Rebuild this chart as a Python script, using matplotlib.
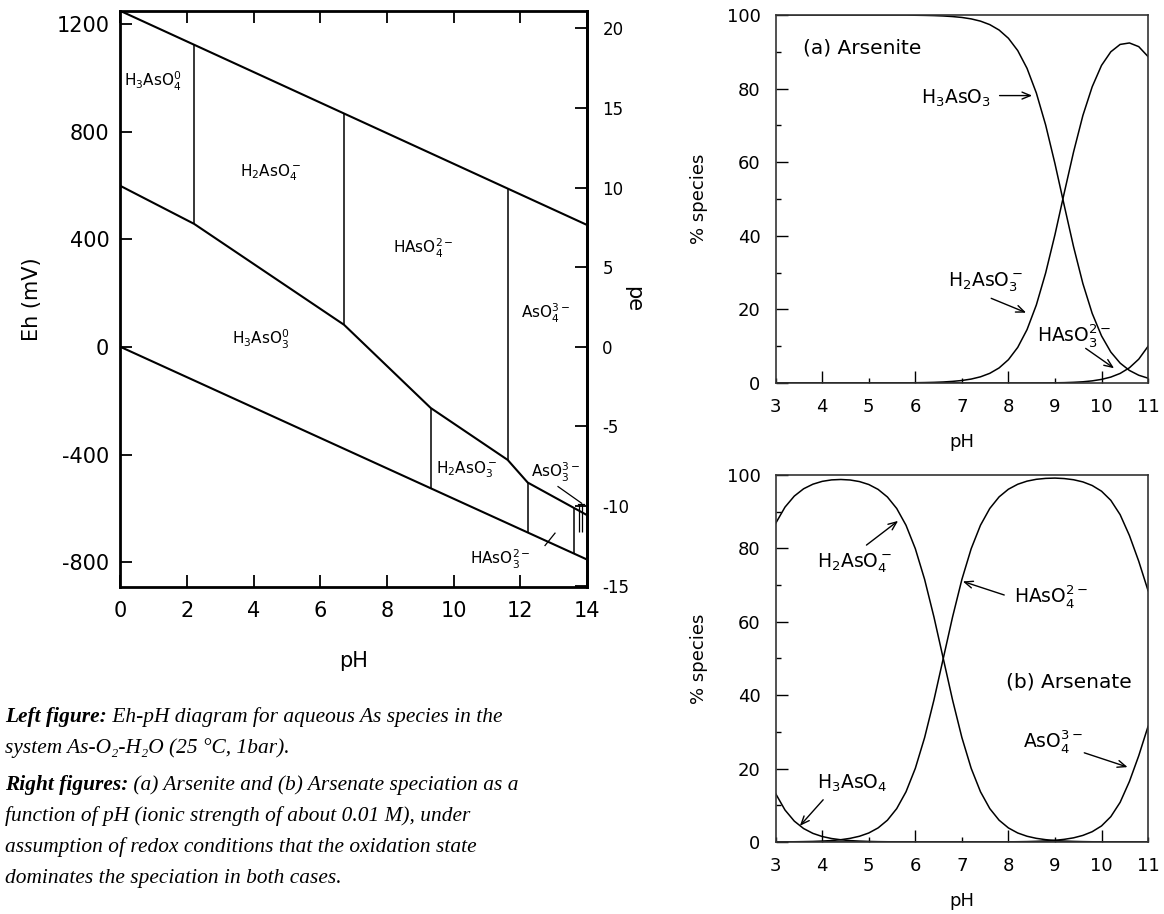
import matplotlib
matplotlib.use("Agg")
import matplotlib.pyplot as plt
from matplotlib.text import Annotation

plt.rcParams["axes.unicode_minus"] = False

# ---- Eh-pH diagram (pH, Eh in mV) ----
o2_line_ph = [0, 14]
o2_line_eh = [1248, 453]
h2_line_ph = [0, 14]
h2_line_eh = [0, -790]
redox_ph = [0, 2.21, 6.71, 9.31, 11.62, 12.22, 14]
redox_eh = [598, 457, 82, -227, -420, -504, -625]

as5_ph = [2.21, 6.71, 11.62]
as5_top = [1122, 867, 588]
as5_bottom = [457, 82, -420]
as3_ph = [9.31, 12.22, 13.62]
as3_top = [-227, -504, -600]
as3_bottom = [-525, -690, -768]
tiny_ph = [13.77, 13.85]
tiny_top = [-583, -583]
tiny_bottom = [-686, -686]

eh_ticks = [-800, -400, 0, 400, 800, 1200]
pe_ticks = [-15, -10, -5, 0, 5, 10, 15, 20]
ph_ticks = [0, 2, 4, 6, 8, 10, 12, 14]

# ---- speciation curves (% species) ----
ph_grid = [3.0, 3.2, 3.4, 3.6, 3.8, 4.0, 4.2, 4.4, 4.6, 4.8, 5.0, 5.2, 5.4,
           5.6, 5.8, 6.0, 6.2, 6.4, 6.6, 6.8, 7.0, 7.2, 7.4, 7.6, 7.8, 8.0,
           8.2, 8.4, 8.6, 8.8, 9.0, 9.2, 9.4, 9.6, 9.8, 10.0, 10.2, 10.4,
           10.6, 10.8, 11.0]

h3aso3 = [100, 100, 100, 100, 100, 100, 100, 100, 100, 100, 100, 100, 100,
          100, 100, 99.93, 99.89, 99.83, 99.73, 99.57, 99.33, 98.94, 98.33,
          97.38, 95.91, 93.67, 90.33, 85.5, 78.8, 70.1, 59.6, 48.2, 37.0,
          27.0, 18.9, 12.8, 8.4, 5.4, 3.4, 2.1, 1.3]
h2aso3 = [0, 0, 0, 0, 0, 0, 0, 0, 0, 0, 0, 0.01, 0.02, 0.03, 0.04, 0.07,
          0.11, 0.17, 0.27, 0.43, 0.67, 1.06, 1.67, 2.62, 4.09, 6.33, 9.67,
          14.5, 21.2, 29.9, 40.3, 51.7, 62.8, 72.7, 80.5, 86.3, 90.0, 92.0,
          92.4, 91.4, 88.7]
haso3 = [0, 0, 0, 0, 0, 0, 0, 0, 0, 0, 0, 0, 0, 0, 0, 0, 0, 0, 0, 0, 0, 0,
         0, 0, 0, 0, 0, 0, 0.01, 0.02, 0.05, 0.09, 0.18, 0.32, 0.57, 0.97,
         1.60, 2.59, 4.13, 6.47, 9.96]

h3aso4 = [13.15, 8.71, 5.68, 3.66, 2.34, 1.49, 0.94, 0.60, 0.37, 0.24, 0.15,
          0.09, 0.06, 0.03, 0.02, 0.01, 0, 0, 0, 0, 0, 0, 0, 0, 0, 0, 0, 0,
          0, 0, 0, 0, 0, 0, 0, 0, 0, 0, 0, 0, 0]
h2aso4 = [86.84, 91.25, 94.26, 96.25, 97.50, 98.27, 98.67, 98.78, 98.64,
          98.21, 97.41, 96.08, 94.01, 90.88, 86.30, 79.92, 71.53, 61.31, 50.0,
          38.69, 28.47, 20.07, 13.68, 9.09, 5.93, 3.83, 2.45, 1.56, 0.99,
          0.63, 0.39, 0.25, 0.16, 0.10, 0.06, 0.04, 0.02, 0.01, 0.01, 0, 0]
haso4 = [0.02, 0.04, 0.06, 0.10, 0.15, 0.25, 0.39, 0.62, 0.99, 1.56, 2.45,
         3.83, 5.93, 9.09, 13.68, 20.07, 28.47, 38.69, 50.0, 61.31, 71.53,
         79.92, 86.32, 90.89, 94.04, 96.13, 97.48, 98.33, 98.83, 99.08,
         99.16, 99.03, 98.71, 98.12, 97.14, 95.59, 93.1, 89.2, 83.5, 76.5,
         68.5]
aso4 = [0, 0, 0, 0, 0, 0, 0, 0, 0, 0, 0, 0, 0, 0, 0, 0, 0, 0, 0, 0, 0, 0, 0,
        0.02, 0.03, 0.04, 0.07, 0.11, 0.18, 0.29, 0.45, 0.72, 1.13, 1.79,
        2.80, 4.37, 6.9, 10.8, 16.5, 23.5, 31.5]

caption = [
    ("Left figure:", " Eh-pH diagram for aqueous As species in the"),
    ("", "system As-O\u2082-H\u2082O (25 \u00b0C, 1bar)."),
    ("Right figures:", " (a) Arsenite and (b) Arsenate speciation as a"),
    ("", "function of pH (ionic strength of about 0.01 M), under"),
    ("", "assumption of redox conditions that the oxidation state"),
    ("", "dominates the speciation in both cases."),
]

W, H = 1164, 914
fig = plt.figure(figsize=(W / 100, H / 100), dpi=100)

# ---------------- left: Eh-pH ----------------
ax = fig.add_axes([0.1035, 0.3578, 0.4008, 0.6302])
ax.plot(o2_line_ph, o2_line_eh, color="k", lw=1.5)
ax.plot(h2_line_ph, h2_line_eh, color="k", lw=1.5)
ax.plot(redox_ph, redox_eh, color="k", lw=1.5)
ax.vlines(as5_ph, as5_bottom, as5_top, color="k", lw=1.1)
ax.vlines(as3_ph, as3_bottom, as3_top, color="k", lw=1.1)
ax.vlines(tiny_ph, tiny_bottom, tiny_top, color="k", lw=0.9)
ax.plot([13.72, 13.9], [-583, -583], color="k", lw=0.9)
ax.set_xlim(0, 14)
ax.set_ylim(-892, 1248)
ax.set_xticks(ph_ticks)
ax.set_yticks(eh_ticks)
ax.tick_params(direction="in", length=8.5, width=1.3, labelsize=15,
               top=True, right=False)
ax.tick_params(axis="x", pad=10)
ax.tick_params(axis="y", pad=8)
for s in ax.spines.values():
    s.set_linewidth(2)
ax.set_xlabel("pH", fontsize=15)
ax.xaxis.set_label_coords(0.5, -0.112)
ax.set_ylabel("Eh (mV)", fontsize=15)
ax.yaxis.set_label_coords(-0.168, 0.5)

pe = ax.secondary_yaxis("right", functions=(lambda e: e / 59.16,
                                            lambda p: p * 59.16))
pe.set_yticks(pe_ticks)
pe.tick_params(direction="in", length=8.5, width=1.3, labelsize=12, pad=11)
pe.spines["right"].set_linewidth(2)
pe.set_ylabel("pe", fontsize=15, rotation=270, va="center")
pe.yaxis.set_label_coords(1.098, 0.5, transform=ax.transAxes)

lab = dict(fontsize=11, color="k")
ax.text(0.12, 985, r"H$_3$AsO$_4^0$", ha="left", va="center", **lab)
ax.text(4.52, 646, r"H$_2$AsO$_4^-$", ha="center", va="center", **lab)
ax.text(9.1, 367, r"HAsO$_4^{2-}$", ha="center", va="center", **lab)
ax.text(12.77, 126, r"AsO$_4^{3-}$", ha="center", va="center", **lab)
ax.text(4.22, 26, r"H$_3$AsO$_3^0$", ha="center", va="center", **lab)
ax.text(10.4, -457, r"H$_2$AsO$_3^-$", ha="center", va="center", **lab)
ax.text(13.07, -468, r"AsO$_3^{3-}$", ha="center", va="center", **lab)
ax.text(11.4, -791, r"HAsO$_3^{2-}$", ha="center", va="center", **lab)
ax.plot([13.13, 13.84], [-519, -581], color="k", lw=0.9)
ax.plot([12.74, 13.04], [-738, -692], color="k", lw=0.9)

# ---------------- right: speciation ----------------
arrow = dict(arrowstyle="->,head_length=0.6,head_width=0.25", color="k",
             lw=1.0, shrinkA=0, shrinkB=0)


def style_panel(a):
    a.set_xlim(3, 11)
    a.set_ylim(0, 100)
    a.set_xticks([4, 6, 8, 10], labels=["4", "6", "8", "10"])
    a.set_xticks([3, 5, 7, 9, 11], labels=["3", "5", "7", "9", "11"],
                 minor=True)
    a.set_yticks([0, 20, 40, 60, 80, 100])
    a.set_yticks([10, 30, 50, 70, 90], minor=True)
    a.tick_params(which="major", direction="in", length=8.5, width=1.0,
                  labelsize=13, pad=11)
    a.tick_params(which="minor", direction="in", length=3.6, width=1.0,
                  labelsize=13, pad=11)
    for s in a.spines.values():
        s.set_linewidth(1.2)
        s.set_color("#333333")
    a.set_xlabel("pH", fontsize=13)
    a.xaxis.set_label_coords(0.5, -0.135)
    a.set_ylabel("% species", fontsize=13)
    a.yaxis.set_label_coords(-0.182, 0.5)


spec = dict(fontsize=13.5, va="center")

axa = fig.add_axes([0.6664, 0.5810, 0.3199, 0.4026])
for series in (h3aso3, h2aso3, haso3):
    axa.plot(ph_grid, series, color="k", lw=1.1)
style_panel(axa)
axa.text(3.59, 91.1, "(a) Arsenite", fontsize=14.5, va="center")
axa.text(6.13, 77.3, r"H$_3$AsO$_3$", **spec)
axa.annotate("", xy=(8.51, 78.1), xytext=(7.81, 78.1), arrowprops=arrow)
axa.text(6.70, 27.5, r"H$_2$AsO$_3^-$", **spec)
axa.annotate("", xy=(8.38, 19.1), xytext=(7.63, 23.0), arrowprops=arrow)
axa.text(8.61, 13.0, r"HAsO$_3^{2-}$", **spec)
axa.annotate("", xy=(10.27, 4.0), xytext=(9.66, 9.4), arrowprops=arrow)

axb = fig.add_axes([0.6664, 0.0788, 0.3199, 0.4015])
for series in (h3aso4, h2aso4, haso4, aso4):
    axb.plot(ph_grid, series, color="k", lw=1.1)
style_panel(axb)
axb.text(7.95, 43.6, "(b) Arsenate", fontsize=14.5, va="center")
axb.text(3.88, 76.0, r"H$_2$AsO$_4^-$", **spec)
axb.annotate("", xy=(5.63, 87.5), xytext=(4.95, 80.9), arrowprops=arrow)
axb.text(8.13, 66.8, r"HAsO$_4^{2-}$", **spec)
axb.annotate("", xy=(7.02, 71.0), xytext=(7.91, 67.3), arrowprops=arrow)
axb.text(8.31, 27.3, r"AsO$_4^{3-}$", **spec)
axb.annotate("", xy=(10.56, 20.4), xytext=(9.63, 24.3), arrowprops=arrow)
axb.text(3.88, 16.0, r"H$_3$AsO$_4$", **spec)
axb.annotate("", xy=(3.52, 4.4), xytext=(4.02, 11.5), arrowprops=arrow)

# ---------------- caption ----------------
serif = ["Liberation Serif", "DejaVu Serif"]
baselines = [722, 753, 790, 821, 852, 883]
for (bold, rest), yb in zip(caption, baselines):
    y = 1 - yb / H
    x = 5 / W
    if bold:
        t = fig.text(x, y, bold, family=serif, style="italic",
                     weight="bold", fontsize=15.4, va="baseline")
        ann = Annotation(rest, xy=(1, 0), xycoords=t, va="bottom",
                         family=serif, style="italic", fontsize=15.4)
        fig.add_artist(ann)
    else:
        fig.text(x, y, rest, family=serif, style="italic", fontsize=15.4,
                 va="baseline")

fig.savefig("out.png", dpi=100)
